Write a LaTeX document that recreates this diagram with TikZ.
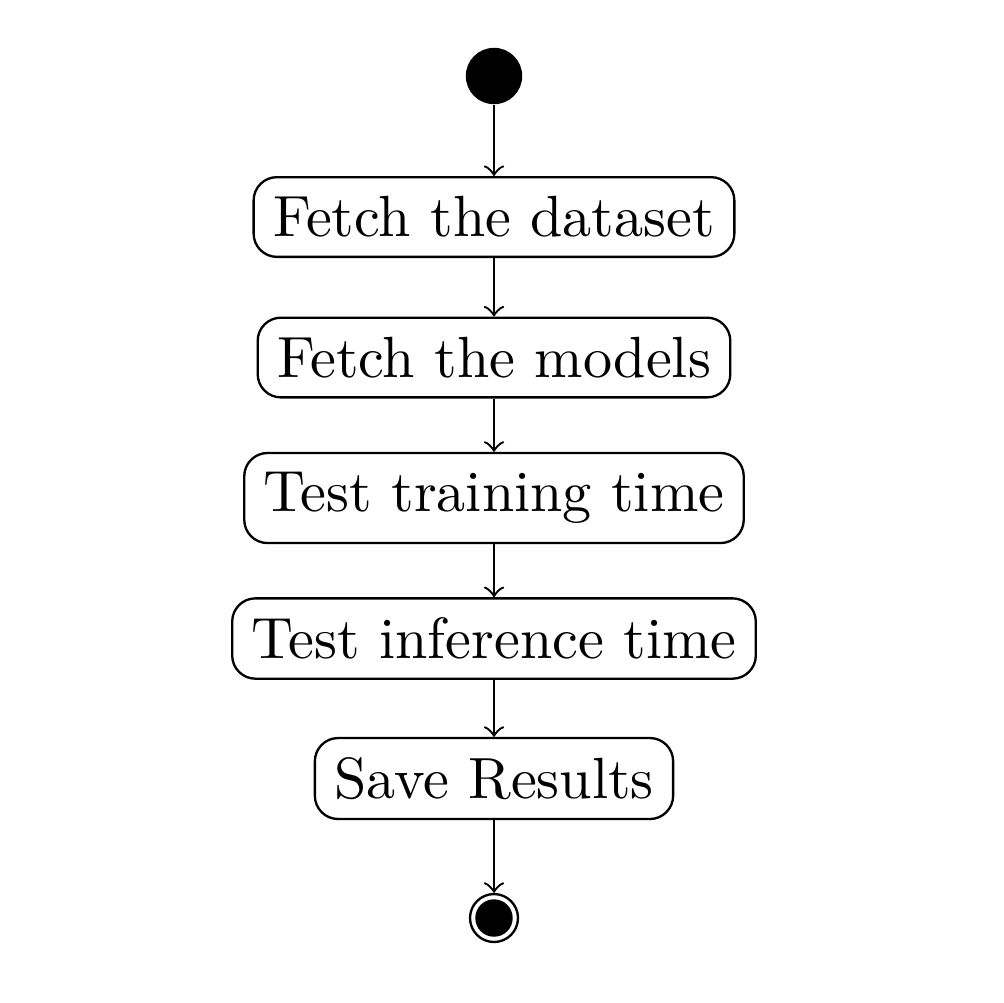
\documentclass[tikz,border=0pt]{standalone}
\begin{document}
\begin{tikzpicture}[x=0.172pt,y=-0.172pt,
  activity/.style={draw, rounded corners=4pt, inner sep=3.33pt, font=\fontsize{10}{12}\selectfont},
  flow/.style={->}]
\useasboundingbox (0,0) rectangle (1004,1002);
\node (start) [circle, fill=black, minimum size=9.7pt, inner sep=0pt] at (494,76) {};
\node (fetchdata) [activity] at (494,217) {Fetch the dataset};
\node (fetchmodels) [activity] at (494,357.5) {Fetch the models};
\node (train) [activity] at (494,498) {Test training time};
\node (infer) [activity] at (494,638.5) {Test inference time};
\node (save) [activity] at (494,778.5) {Save Results};
\node (end) [circle, draw, minimum size=8.25pt, inner sep=0pt] at (494,918) {};
\fill (end.center) circle (3.22pt);
\draw[flow] (start) -- (fetchdata);
\draw[flow] (fetchdata) -- (fetchmodels);
\draw[flow] (fetchmodels) -- (train);
\draw[flow] (train) -- (infer);
\draw[flow] (infer) -- (save);
\draw[flow] (save) -- (end);
\end{tikzpicture}
\end{document}
